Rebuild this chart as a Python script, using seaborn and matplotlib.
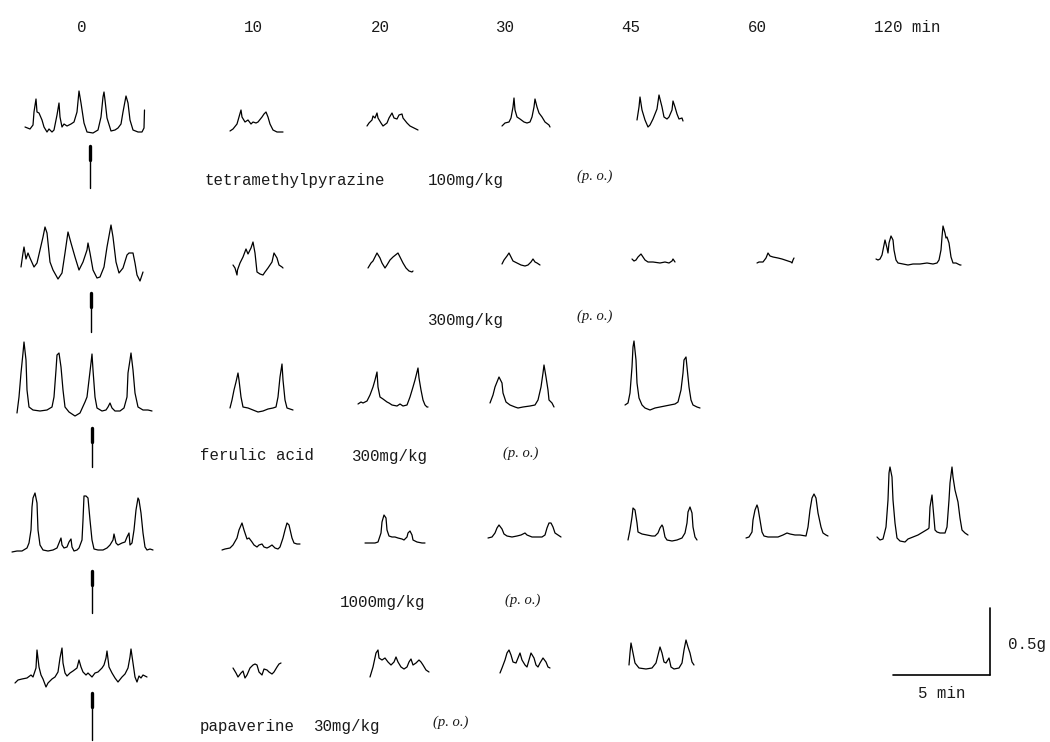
import pandas as pd
import matplotlib
matplotlib.use("Agg")
import matplotlib.pyplot as plt
import seaborn as sns

# Column headings (minutes after dosing)
time_labels = ["0", "10", "20", "30", "45", "60", "120 min"]

# Recorder traces: (time step, pen deflection) pairs.
# Row 1: tetramethylpyrazine 100mg/kg
tmp100_0 = [(0,5),(5,3),(8,7),(9,20),(11,33),(12,20),(14,19),(17,12),(19,5),(22,0),(24,3),(27,0),(29,2),(32,17),(34,29),(35,15),(37,5),(39,8),(42,6),(46,8),(49,10),(52,20),(54,41),(56,29),(59,9),(62,0),(68,-1),(73,2),(76,15),(78,35),(79,40),(80,32),(82,14),(86,1),(90,2),(93,4),(96,8),(98,20),(101,36),(103,29),(105,12),(108,2),(113,0),(117,0),(119,4),(119.5,22)]
tmp100_10 = [(0,1),(3,3),(7,8),(9,15),(11,22),(12,15),(15,10),(18,12),(21,8),(23,10),(26,9),(28,10),(32,15),(34,18),(36,20),(38,15),(40,8),(43,2),(47,0),(53,0)]
tmp100_20 = [(0,2),(2,5),(5,8),(6,12),(8,10),(10,15),(11,10),(14,5),(16,2),(20,5),(22,10),(25,15),(27,10),(30,9),(32,13),(35,14),(36,10),(40,5),(43,2),(47,0),(51,-2)]
tmp100_30 = [(0,-1),(3,2),(7,3),(9,7),(11,18),(12,27),(13,15),(15,8),(18,6),(22,3),(25,2),(28,3),(30,8),(32,18),(33,26),(35,18),(37,12),(40,8),(43,3),(47,0),(48,-2)]
tmp100_45 = [(0,7),(2,20),(3,30),(5,17),(8,7),(11,0),(13,2),(16,8),(20,18),(22,32),(25,20),(27,10),(30,8),(32,10),(35,17),(36,26),(38,20),(40,13),(42,8),(45,9),(46,6)]

# Row 2: tetramethylpyrazine 300mg/kg
tmp300_0 = [(0,13),(2,27),(3,33),(5,21),(7,27),(9,22),(13,13),(16,17),(19,30),(22,43),(24,53),(26,47),(29,18),(32,10),(37,1),(41,7),(44,27),(47,48),(50,37),(52,30),(54,23),(58,10),(62,18),(66,30),(67,37),(69,27),(72,10),(76,2),(79,3),(83,13),(86,33),(90,55),(92,43),(95,18),(98,7),(102,12),(106,25),(108,27),(112,27),(114,17),(116,5),(119,-1),(122,8)]
tmp300_10 = [(0,10),(2,7),(4,0),(4.5,5),(7,12),(10,18),(13,26),(15,21),(18,27),(20,33),(22,22),(24,3),(27,1),(30,0),(32,3),(35,7),(39,13),(41,22),(44,17),(46,10),(49,8),(50,7)]
tmp300_20 = [(0,2),(3,7),(5,9),(7,13),(9,17),(12,12),(14,7),(17,2),(19,5),(22,10),(25,13),(30,17),(32,13),(35,7),(38,2),(41,-1),(44,-2),(45,-1)]
tmp300_30 = [(0,1),(2,5),(5,9),(7,12),(9,8),(11,4),(15,2),(19,0),(23,-1),(26,0),(29,3),(31,6),(33,3),(35,2),(38,0)]
tmp300_45 = [(0,3),(2,1),(4,2),(6,5),(9,8),(11,5),(13,2),(16,0),(21,0),(28,-1),(33,0),(37,-1),(40,1),(41,3),(43,0)]
tmp300_60 = [(0,-1),(2,0),(6,0),(9,4),(11,9),(13,6),(16,5),(21,4),(25,3),(28,2),(31,1),(34,0),(35,-1),(36,2),(37,4)]
tmp300_120 = [(0,5),(2,4),(4,5),(6,9),(8,19),(9,24),(11,16),(12,11),(13,21),(15,28),(17,24),(18,14),(20,4),(22,1),(27,0),(32,-1),(37,0),(44,0),(51,1),(57,0),(61,1),(63,4),(65,14),(66,27),(67,38),(69,31),(70,26),(71,27),(73,21),(75,7),(77,1),(80,1),(82,0),(84,-1),(85,-1)]

# Row 3: ferulic acid 300mg/kg
fa300_0 = [(0,-3),(2,13),(4,37),(6,57),(7,68),(9,50),(10,20),(12,3),(16,0),(23,-1),(30,0),(35,3),(37,13),(39,40),(40,55),(42,57),(44,43),(46,20),(48,3),(52,-2),(58,-6),(63,-3),(68,8),(70,13),(72,30),(74,47),(75,56),(76,40),(78,13),(80,2),(85,-1),(89,0),(91,3),(93,7),(95,2),(98,-1),(103,-1),(107,2),(110,13),(111,37),(113,50),(114,57),(116,40),(118,17),(121,3),(126,0),(131,0),(135,-1)]
fa300_10 = [(0,1),(2,9),(4,19),(6,27),(8,36),(9,29),(11,12),(13,2),(18,1),(23,-1),(28,-3),(33,-2),(38,0),(43,1),(46,2),(48,12),(50,32),(52,45),(53,29),(55,9),(57,1),(60,0),(63,-1)]
fa300_20 = [(0,1),(3,3),(5,2),(9,4),(12,10),(15,18),(17,25),(19,33),(20,18),(22,8),(25,6),(29,3),(31,2),(34,0),(39,-1),(42,1),(45,-1),(49,0),(52,8),(55,18),(57,25),(60,37),(61,27),(63,15),(65,5),(67,0),(69,-2),(70,-2)]
fa300_30 = [(0,3),(3,11),(5,19),(7,24),(9,29),(12,23),(13,13),(16,4),(20,1),(25,-1),(28,-2),(33,-1),(40,0),(45,1),(48,6),(51,19),(53,33),(54,41),(56,29),(58,16),(59,6),(62,3),(63,1),(64,-1)]
fa300_45 = [(0,1),(3,3),(5,13),(7,39),(8,59),(9,65),(11,46),(12,23),(14,8),(17,1),(20,-2),(25,-4),(30,-2),(35,-1),(40,0),(45,1),(50,2),(53,4),(56,16),(58,33),(59,46),(61,49),(62,39),(64,19),(66,6),(68,1),(72,-1),(75,-2)]

# Row 4: ferulic acid 1000mg/kg
fa1000_0 = [(0,-2),(5,-1),(10,-1),(15,2),(17,7),(19,20),(20,43),(21,52),(23,57),(25,47),(26,20),(28,5),(31,0),(36,-1),(41,0),(45,2),(47,7),(49,12),(50,5),(52,2),(55,3),(57,8),(59,11),(60,3),(62,-1),(65,0),(67,2),(70,10),(71,30),(72,54),(74,54),(76,52),(78,30),(80,10),(82,1),(86,0),(91,0),(95,2),(98,5),(101,10),(102,16),(104,7),(106,5),(110,7),(113,8),(115,13),(117,17),(118,5),(120,7),(122,20),(124,40),(126,52),(127,50),(129,37),(131,17),(133,3),(135,0),(138,1),(141,0)]
fa1000_10 = [(0,-2),(3,-1),(8,0),(11,3),(15,10),(17,18),(20,25),(22,18),(25,9),(27,10),(30,6),(32,3),(35,1),(37,3),(40,4),(42,1),(45,0),(47,1),(50,3),(53,0),(56,-1),(58,1),(61,10),(63,18),(65,25),(67,23),(70,10),(72,5),(75,4),(78,4)]
fa1000_20 = [(0,0),(5,0),(10,0),(13,1),(16,10),(17,21),(19,28),(21,25),(22,13),(24,7),(27,6),(30,6),(33,5),(37,4),(39,3),(42,6),(43,10),(45,12),(47,8),(48,3),(52,1),(57,0),(60,0)]
fa1000_30 = [(0,-1),(4,0),(7,4),(9,9),(11,12),(14,8),(16,3),(19,1),(24,0),(29,1),(33,2),(35,3),(37,4),(39,2),(44,0),(49,0),(54,0),(57,2),(59,9),(61,14),(63,14),(65,10),(67,4),(70,2),(73,0)]
fa1000_45 = [(0,0),(2,10),(4,23),(5,32),(7,30),(9,17),(10,8),(14,6),(19,5),(24,4),(27,4),(30,7),(32,12),(34,15),(35,13),(37,3),(39,0),(44,-1),(49,0),(54,2),(57,7),(59,17),(60,28),(62,33),(64,27),(65,13),(67,3),(69,0)]
fa1000_60 = [(0,-2),(3,-1),(6,4),(7,16),(9,26),(11,31),(12,28),(14,16),(16,4),(18,0),(22,-1),(27,-1),(32,-1),(37,1),(41,3),(44,2),(49,1),(54,1),(60,0),(62,9),(64,26),(66,38),(68,42),(70,38),(72,23),(75,9),(77,3),(80,1),(82,0)]
fa1000_120 = [(0,0),(3,-3),(6,-2),(9,10),(11,37),(12,64),(13,70),(15,60),(16,37),(18,14),(20,-1),(23,-4),(28,-5),(31,-2),(36,0),(41,2),(46,5),(51,8),(52,9),(53,30),(55,42),(56,30),(58,7),(60,5),(63,4),(68,4),(70,10),(72,37),(73,54),(75,70),(76,60),(78,47),(80,39),(81,35),(83,19),(85,7),(88,4),(91,2)]

# Row 5: papaverine 30mg/kg
pap30_0 = [(0,-3),(3,0),(7,1),(12,2),(16,5),(18,3),(21,12),(22,30),(24,13),(26,5),(28,1),(31,-7),(33,-3),(37,1),(40,3),(43,8),(45,22),(47,32),(48,17),(50,7),(52,4),(55,7),(58,9),(62,12),(64,20),(66,13),(68,8),(71,5),(73,7),(77,3),(80,7),(83,8),(87,12),(89,15),(91,22),(92,29),(94,13),(97,7),(100,2),(103,-2),(107,3),(110,6),(113,12),(115,23),(116,31),(118,17),(120,3),(122,-2),(124,4),(126,2),(128,5),(130,4),(132,3)]
pap30_10 = [(0,8),(3,3),(5,-1),(8,3),(10,5),(12,-2),(14,1),(17,8),(20,11),(22,12),(24,11),(26,4),(29,1),(31,7),(34,6),(36,4),(39,2),(41,4),(44,9),(46,12),(48,13)]
pap30_20 = [(0,-7),(3,3),(6,17),(8,20),(9,12),(12,10),(15,12),(18,8),(21,5),(24,8),(26,13),(28,8),(31,3),(34,1),(37,3),(39,8),(41,11),(43,5),(46,7),(49,10),(51,8),(53,5),(56,0),(59,-2)]
pap30_30 = [(0,-6),(2,-1),(5,7),(7,14),(9,17),(11,12),(13,5),(16,4),(18,9),(20,14),(22,7),(25,2),(27,0),(29,7),(31,14),(34,9),(36,2),(38,0),(40,4),(43,9),(46,5),(48,0),(50,-1)]
pap30_45 = [(0,3),(1,15),(2,25),(4,15),(6,5),(10,0),(17,-1),(23,0),(27,5),(29,13),(31,21),(33,15),(35,6),(37,5),(40,10),(42,1),(45,-1),(50,0),(53,5),(55,18),(57,28),(59,21),(61,15),(63,6),(65,3)]

# where each trace sits on the page (left edge, baseline) in pixels
layout = [
    ("tmp100_0", tmp100_0, 25, 132), ("tmp100_10", tmp100_10, 230, 132),
    ("tmp100_20", tmp100_20, 367, 128), ("tmp100_30", tmp100_30, 502, 125),
    ("tmp100_45", tmp100_45, 637, 127),
    ("tmp300_0", tmp300_0, 21, 280), ("tmp300_10", tmp300_10, 233, 275),
    ("tmp300_20", tmp300_20, 368, 270), ("tmp300_30", tmp300_30, 502, 265),
    ("tmp300_45", tmp300_45, 632, 262), ("tmp300_60", tmp300_60, 757, 262),
    ("tmp300_120", tmp300_120, 876, 264),
    ("fa300_0", fa300_0, 17, 410), ("fa300_10", fa300_10, 230, 409),
    ("fa300_20", fa300_20, 358, 405), ("fa300_30", fa300_30, 490, 406),
    ("fa300_45", fa300_45, 625, 406),
    ("fa1000_0", fa1000_0, 12, 550), ("fa1000_10", fa1000_10, 222, 548),
    ("fa1000_20", fa1000_20, 365, 543), ("fa1000_30", fa1000_30, 488, 537),
    ("fa1000_45", fa1000_45, 628, 540), ("fa1000_60", fa1000_60, 746, 536),
    ("fa1000_120", fa1000_120, 877, 537),
    ("pap30_0", pap30_0, 15, 680), ("pap30_10", pap30_10, 233, 676),
    ("pap30_20", pap30_20, 370, 670), ("pap30_30", pap30_30, 500, 667),
    ("pap30_45", pap30_45, 629, 668),
]

# build one long table for seaborn
frames = []
for name, pts, x0, y0 in layout:
    d = pd.DataFrame(pts, columns=["t", "h"])
    d["trace"] = name
    d["x"] = x0 + d["t"]
    d["y"] = y0 - d["h"]
    frames.append(d)
df = pd.concat(frames, ignore_index=True)

sns.set_theme(style="white")
plt.rcParams["font.family"] = ["Liberation Mono", "DejaVu Sans Mono"]

fig = plt.figure(figsize=(10.5, 7.42), dpi=100)
ax = fig.add_axes([0, 0, 1, 1])
ax.set_xlim(0, 1050)
ax.set_ylim(742, 0)
ax.axis("off")

sns.lineplot(data=df, x="x", y="y", units="trace", estimator=None, sort=False,
             color="black", lw=0.9, ax=ax, legend=False)

# header
header_x = [82, 253, 380, 505, 631, 757, 907]
for lab, hx in zip(time_labels, header_x):
    ax.text(hx, 28, lab, ha="center", va="center", fontsize=11.3, color="#1a1a1a")

# dosing markers under the control traces (x, top, bottom)
markers = [(90, 145, 188), (91, 292, 332), (92, 427, 467), (92, 570, 613), (92, 692, 740)]
for mx, top, bot in markers:
    ax.plot([mx, mx], [top, bot], color="black", lw=1.0)
    ax.plot([mx, mx], [top + 1, top + 15], color="black", lw=2.4)

# drug / dose labels
mono = dict(fontsize=11.3, va="center", ha="left", color="#1a1a1a")
po = dict(fontsize=10.5, va="center", ha="left", family="Liberation Serif",
          style="italic", color="#1a1a1a")
ax.text(205, 180, "tetramethylpyrazine", **mono)
ax.text(428, 180, "100mg/kg", **mono)
ax.text(577, 176, "(p. o.)", **po)
ax.text(428, 320, "300mg/kg", **mono)
ax.text(577, 316, "(p. o.)", **po)
ax.text(200, 456, "ferulic acid", **mono)
ax.text(352, 456, "300mg/kg", **mono)
ax.text(503, 453, "(p. o.)", **po)
ax.text(340, 602, "1000mg/kg", **mono)
ax.text(505, 600, "(p. o.)", **po)
ax.text(200, 727, "papaverine", **mono)
ax.text(314, 727, "30mg/kg", **mono)
ax.text(433, 722, "(p. o.)", **po)

# calibration bar: 5 min horizontal, 0.5 g vertical
bar_right, bar_base = 990, 675
px_per_min, px_per_g = 19.4, 134
ax.plot([bar_right - 5 * px_per_min, bar_right], [bar_base, bar_base], color="black", lw=1.2)
ax.plot([bar_right, bar_right], [bar_base, bar_base - 0.5 * px_per_g], color="black", lw=1.2)
ax.text(1008, 645, "0.5g", **mono)
ax.text(942, 693, "5 min", fontsize=11.3, va="center", ha="center", color="#1a1a1a")

fig.savefig("out.png", dpi=100, facecolor="white")
